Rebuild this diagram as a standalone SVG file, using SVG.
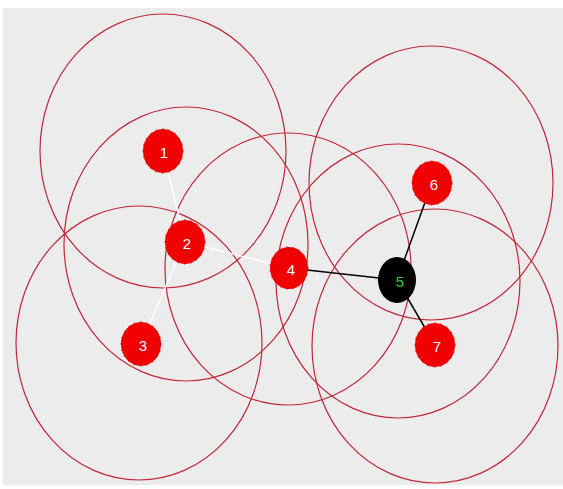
<svg xmlns="http://www.w3.org/2000/svg" width="563" height="489" viewBox="0 0 563 489">
<style>
.range{fill:none;stroke:#c02838;stroke-width:1.2}
.node{fill:#f00000;stroke:#d00000;stroke-width:1;stroke-dasharray:1.5 5}
.lbl{font-family:"Liberation Sans",Arial,sans-serif;font-size:15px;fill:#ffffff;text-anchor:middle;dominant-baseline:central}
.w{stroke:#ffffff;stroke-width:1.5}
.b{stroke:#000000;stroke-width:1.5}
</style>
<rect x="0" y="0" width="563" height="489" fill="#ffffff"/>
<rect x="3" y="8" width="560" height="477" fill="#ececec"/>
<g id="ranges">
<ellipse class="range" cx="163" cy="151" rx="123" ry="137"/>
<ellipse class="range" cx="186" cy="244" rx="122" ry="137"/>
<ellipse class="range" cx="139" cy="343" rx="123" ry="137"/>
<ellipse class="range" cx="288" cy="269" rx="123" ry="136"/>
<ellipse class="range" cx="398" cy="281" rx="122" ry="137"/>
<ellipse class="range" cx="431" cy="183" rx="122" ry="137"/>
<ellipse class="range" cx="435" cy="346" rx="123" ry="137"/>
</g>
<g id="connectors">
<line class="w" x1="163" y1="151" x2="185" y2="242"/>
<line class="w" x1="185" y1="242" x2="141" y2="344"/>
<line class="w" x1="185" y1="242" x2="289" y2="268"/>
<line class="b" x1="289" y1="268" x2="397" y2="280"/>
<line class="b" x1="397" y1="280" x2="432" y2="183"/>
<line class="b" x1="397" y1="280" x2="435" y2="345"/>
</g>
<g id="node1"><ellipse class="node" cx="163" cy="151" rx="20" ry="22"/><text class="lbl" x="164" y="152">1</text></g>
<g id="node2"><ellipse class="node" cx="185" cy="242" rx="20" ry="22"/><text class="lbl" x="187" y="243">2</text></g>
<g id="node3"><ellipse class="node" cx="141" cy="344" rx="20" ry="22"/><text class="lbl" x="143" y="345">3</text></g>
<g id="node4"><ellipse class="node" cx="289" cy="268" rx="19" ry="21"/><text class="lbl" x="291" y="269">4</text></g>
<g id="node5"><ellipse cx="397" cy="280" rx="19" ry="23" fill="#000000"/><text class="lbl" x="400" y="281" style="fill:#2ecc40">5</text></g>
<g id="node6"><ellipse class="node" cx="432" cy="183" rx="20" ry="22"/><text class="lbl" x="434" y="184">6</text></g>
<g id="node7"><ellipse class="node" cx="435" cy="345" rx="20" ry="22"/><text class="lbl" x="437" y="346">7</text></g>
</svg>
